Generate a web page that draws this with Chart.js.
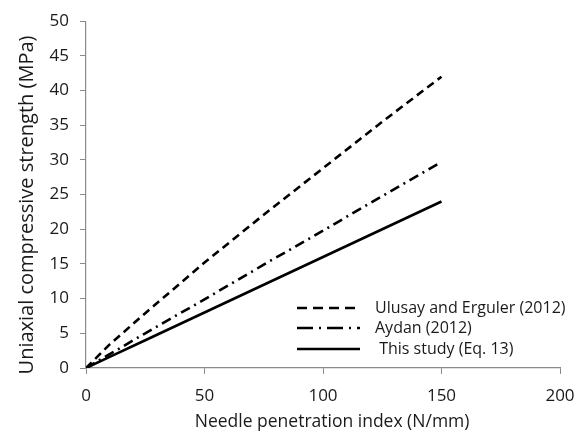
<!DOCTYPE html>
<html>
<head>
<meta charset="utf-8">
<script src="https://cdn.jsdelivr.net/npm/chart.js@4.4.1/dist/chart.umd.min.js"></script>
<style>
  html, body { margin: 0; padding: 0; background: #fff; }
  #wrap { width: 587px; height: 434px; position: relative; }
</style>
</head>
<body>
<div id="wrap"><canvas id="grafico"></canvas></div>
<script>
// needle penetration index (N/mm)
const npi = [0, 10, 25, 50, 75, 100, 125, 150];
// UCS (MPa)
const ulusay = [0, 3.4, 7.9, 15.2, 22.1, 28.8, 35.5, 42.0];
const aydan = [0, 2.0, 5.0, 9.9, 14.9, 19.8, 24.8, 29.7];
const thisStudy = [0, 1.6, 4.0, 8.0, 12.0, 16.0, 20.0, 24.0];

const nomes = ['Ulusay and Erguler (2012)', 'Aydan (2012)', ' This study (Eq. 13)'];
const xTicks = [0, 50, 100, 150, 200];

const fonte = '"Open Sans", "DejaVu Sans", sans-serif';
const corTexto = '#1a1a1a';
const corEixo = '#8a8a8a';

const pts = arr => arr.map((v, i) => ({ x: npi[i], y: v }));

// legenda desenhada dentro da área do gráfico
const legendaInterna = {
    id: 'legendaInterna',
    afterDraw(chart) {
        const ctx = chart.ctx;
        const x0 = 297, x1 = 360, xt = 375;
        const linhas = [308, 328, 349];
        ctx.save();
        ctx.font = '16px ' + fonte;
        ctx.textBaseline = 'middle';
        ctx.fillStyle = corTexto;
        chart.data.datasets.forEach((ds, i) => {
            const y = linhas[i];
            ctx.beginPath();
            ctx.strokeStyle = ds.borderColor;
            ctx.lineWidth = ds.borderWidth;
            ctx.setLineDash(ds.legendDash || []);
            ctx.moveTo(x0, y);
            ctx.lineTo(x1, y);
            ctx.stroke();
            ctx.setLineDash([]);
            ctx.fillText(ds.label, xt, y);
        });
        ctx.restore();
    }
};

new Chart(document.getElementById('grafico'), {
    type: 'line',
    data: {
        datasets: [
            { label: nomes[0], data: pts(ulusay), borderColor: '#000', borderWidth: 2.6, borderDash: [8, 5], legendDash: [10, 6], pointRadius: 0, tension: 0 },
            { label: nomes[1], data: pts(aydan), borderColor: '#000', borderWidth: 2.6, borderDash: [10, 5, 2, 5], legendDash: [16, 6, 2, 6], pointRadius: 0, tension: 0 },
            { label: nomes[2], data: pts(thisStudy), borderColor: '#000', borderWidth: 2.6, pointRadius: 0, tension: 0 }
        ]
    },
    options: {
        responsive: true,
        maintainAspectRatio: false,
        animation: false,
        layout: { padding: { left: 0, right: 27, top: 20, bottom: 0 } },
        plugins: { legend: { display: false }, tooltip: { enabled: false } },
        scales: {
            x: {
                type: 'linear', min: 0, max: 200,
                afterBuildTicks: s => { s.ticks = xTicks.map(v => ({ value: v })); },
                afterFit: s => { s.height = 66; },
                grid: { drawOnChartArea: false, drawTicks: true, tickLength: 6, color: corEixo },
                border: { color: corEixo, width: 1.2 },
                ticks: { color: corTexto, font: { family: fonte, size: 17 }, padding: 12, maxRotation: 0 },
                title: { display: true, text: '    Needle penetration index (N/mm)', color: corTexto, font: { family: fonte, size: 17.5 }, padding: { top: 0, bottom: 1 } }
            },
            y: {
                min: 0, max: 50,
                afterFit: s => { s.width = 86; },
                grid: { drawOnChartArea: false, drawTicks: true, tickLength: 6, color: corEixo },
                border: { color: corEixo, width: 1.2 },
                ticks: { stepSize: 5, color: corTexto, font: { family: fonte, size: 17 }, padding: 11 },
                title: { display: true, text: 'Uniaxial compressive strength (MPa)    ', color: corTexto, font: { family: fonte, size: 20 }, padding: { top: 15, bottom: 0 } }
            }
        }
    },
    plugins: [legendaInterna]
});
</script>
</body>
</html>
